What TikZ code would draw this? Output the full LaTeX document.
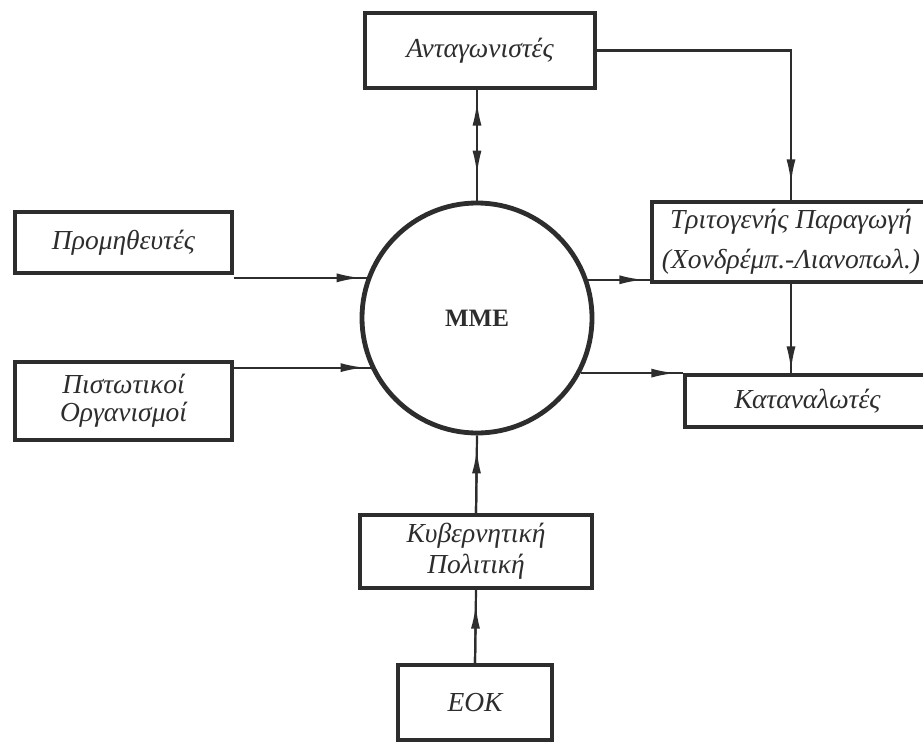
\documentclass[tikz,border=0pt]{standalone}
\usepackage{fontspec}
\setmainfont{Liberation Serif}
\usetikzlibrary{arrows.meta}
\definecolor{ink}{RGB}{45,45,45}
\begin{document}
\begin{tikzpicture}[x=1pt,y=-1pt,
  box/.style={draw=ink, line width=3.2pt, rectangle, inner sep=0pt, align=center,
    font=\fontsize{27.5}{33}\selectfont\itshape, text=ink},
  conn/.style={draw=ink, line width=2.2pt},
  arr/.style={conn, -{Latex[length=24pt,width=9pt]}}]
\useasboundingbox (0,0) rectangle (923,743);
\clip (0,0) rectangle (923,743);
\fill[white] (0,0) rectangle (923,743);

% central circle
\node[circle, draw=ink, line width=4.8pt, minimum size=230pt, inner sep=0pt,
  font=\fontsize{25}{28}\selectfont\bfseries, text=ink] (c) at (477,318) {ΜΜΕ};

% boxes
\node[box, minimum width=230pt, minimum height=75pt] (a) at (480,50.5) {Ανταγωνιστές};
\node[box, minimum width=278pt, minimum height=80pt] (t) at (791,242)
  {Τριτογενής Παραγωγή\\[7pt](Χονδρέμπ.-Λιανοπωλ.)};
\node[box, minimum width=245pt, minimum height=52pt] (k) at (807.5,401) {Καταναλωτές};
\node[box, minimum width=217pt, minimum height=61pt] (p) at (123.5,242.5) {Προμηθευτές};
\node[box, minimum width=217pt, minimum height=78pt] (pi) at (123.5,401)
  {Πιστωτικοί\\[-5pt]Οργανισμοί};
\node[box, minimum width=232pt, minimum height=73pt] (ky) at (476,551.5)
  {Κυβερνητική\\[-2pt]Πολιτική};
\node[box, minimum width=154pt, minimum height=75pt] (e) at (475,702.5) {ΕΟΚ};

% connectors
\draw[conn] (a.south -| c.north) -- (c.north);
\draw[arr, shorten >=12pt] (c.north) -- (a.south -| c.north);
\draw[arr, shorten >=26pt] (a.south -| c.north) -- (c.north);

\draw[conn] (a.east) -| (t.north);
\draw[arr, shorten >=17pt] (a.east) -| (t.north);

\draw[conn] (p.south east |- c.160) -- (c.160);
\draw[arr, shorten >=6pt] (p.south east |- c.160) -- (c.160);

\draw[conn] (pi.north east |- c.205) -- (c.205);
\draw[arr, shorten >=6pt] (pi.north east |- c.205) -- (c.205);

\draw[conn] (c.19) -- (c.19 -| t.west);
\draw[arr, shorten >=7pt] (c.19) -- (c.19 -| t.west);

\draw[conn] (c.-28) -- (c.-28 -| k.west);
\draw[arr, shorten >=8pt] (c.-28) -- (c.-28 -| k.west);

\draw[conn] (t.south) -- (t.south |- k.north);
\draw[arr, shorten >=3pt] (t.south) -- (t.south |- k.north);

\draw[conn] (ky.north) -- (c.south);
\draw[arr, shorten >=14pt] (ky.north) -- (c.south);

\draw[conn] (e.north) -- (ky.south);
\draw[arr, shorten >=15pt] (e.north) -- (ky.south);
\end{tikzpicture}
\end{document}
